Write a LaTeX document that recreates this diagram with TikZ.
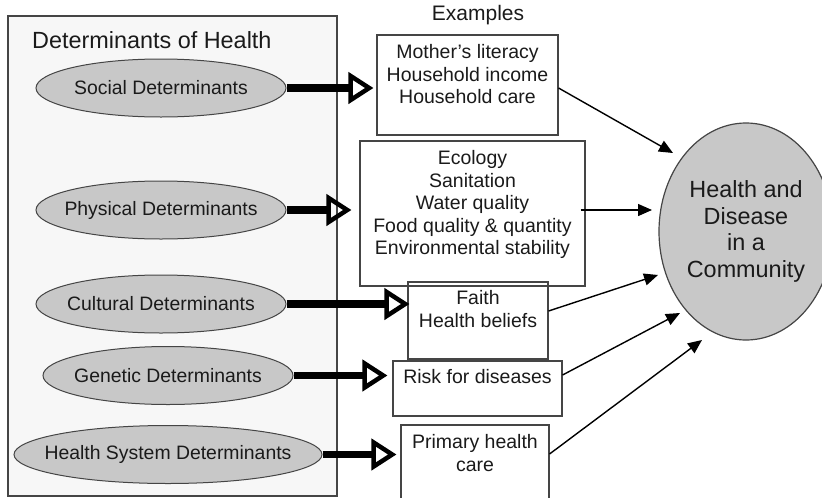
\documentclass[tikz,border=0pt]{standalone}
\usepackage{fontspec}
\setmainfont{Liberation Sans}
\usetikzlibrary{shapes.geometric,arrows.meta,positioning}
\definecolor{ovalgray}{HTML}{C8C8C8}
\definecolor{panelgray}{HTML}{F7F7F7}
\definecolor{edgegray}{HTML}{454545}
\definecolor{inkgray}{HTML}{1A1A1A}

\begin{document}
\begin{tikzpicture}[x=1pt,y=-1pt,text=inkgray,
   det/.style={ellipse,draw=edgegray,line width=1pt,fill=ovalgray,minimum width=250pt,minimum height=58pt,inner xsep=-20pt,inner ysep=0pt,font=\fontsize{19.4}{22}\selectfont},
   exbox/.style={draw=edgegray,line width=1.1pt,inner sep=0pt},
   extext/.style={align=center,inner sep=0pt,font=\fontsize{19.5}{22.5}\selectfont},
   feed/.style={line width=7.5pt,-{Triangle[open,length=25pt,width=31pt,line width=4.5pt]}},
   effect/.style={line width=1.4pt,-{Triangle[length=14pt,width=12pt]}}]
   \useasboundingbox (0,0) rectangle (822,498);
   \node[draw=edgegray,line width=1.4pt,fill=panelgray,minimum width=329pt,minimum height=480pt,inner sep=0pt] (panel) at (172.5,256) {};
   \node[anchor=west,inner sep=0pt,font=\fontsize{23.4}{26}\selectfont] (dtitle) at (32,40) {Determinants of Health};
   \node[det] (soc) at (161,88) {Social Determinants};
   \node[det] (phy) at (161,210) {Physical Determinants};
   \node[det] (cul) at (161,304) {Cultural Determinants};
   \node[det] (gen) at (168,375.5) {Genetic Determinants};
   \node[det,minimum width=308pt] (hsys) at (168,454.5) {Health System Determinants};

   \node[inner sep=0pt,font=\fontsize{21}{24}\selectfont] (exhead) at (478,15) {Examples};
   \node[exbox,minimum width=181pt,minimum height=100pt] (lit) at (467.5,85) {};
   \node[extext,below=10pt of lit.north] (littxt) {Mother's literacy\\Household income\\Household care};
   \node[exbox,minimum width=225pt,minimum height=145pt] (eco) at (472.5,213.5) {};
   \node[extext,below=10pt of eco.north] (ecotxt) {Ecology\\Sanitation\\Water quality\\Food quality \& quantity\\Environmental stability};
   \node[exbox,minimum width=140pt,minimum height=77pt] (faith) at (478,320.5) {};
   \node[extext,below=9pt of faith.north] (faithtxt) {Faith\\Health beliefs};
   \node[exbox,minimum width=169pt,minimum height=55pt] (risk) at (477.5,388.5) {};
   \node[extext,below=9pt of risk.north] (risktxt) {Risk for diseases};
   \node[exbox,minimum width=148pt,minimum height=85pt] (prim) at (475,467.5) {};
   \node[extext,below=10pt of prim.north] (primtxt) {Primary health\\care};

   \node[ellipse,draw=edgegray,line width=1.2pt,fill=ovalgray,minimum width=174pt,minimum height=217pt,inner sep=0pt,align=center,font=\fontsize{23.4}{26.7}\selectfont] (hd) at (746,231.5) {Health and\\Disease\\in a\\Community};

   \draw[feed,shorten >=3pt] (soc.east) -- (soc.east -| lit.west);
   \draw[feed,shorten >=8pt] (phy.east) -- (phy.east -| eco.west);
   \draw[feed,shorten >=-2pt] (cul.east) -- (cul.east -| faith.west);
   \draw[feed,shorten >=5pt] (gen.east) -- (gen.east -| risk.west);
   \draw[feed,shorten >=4pt] (hsys.east) -- (hsys.east -| prim.west);

   \coordinate (in1) at (673,153);
   \coordinate (in2) at (652,210);
   \coordinate (in3) at (658,275);
   \coordinate (in4) at (680,313);
   \coordinate (in5) at (702,340);
   \path[effect]
    ([yshift=-3pt]lit.east) edge (in1)
    ([xshift=-5pt,yshift=3.5pt]eco.east) edge (in2)
    ([yshift=9.5pt]faith.east) edge (in3)
    ([yshift=13.5pt]risk.east) edge (in4)
    ([yshift=13.5pt]prim.east) edge (in5);
\end{tikzpicture}
\end{document}
